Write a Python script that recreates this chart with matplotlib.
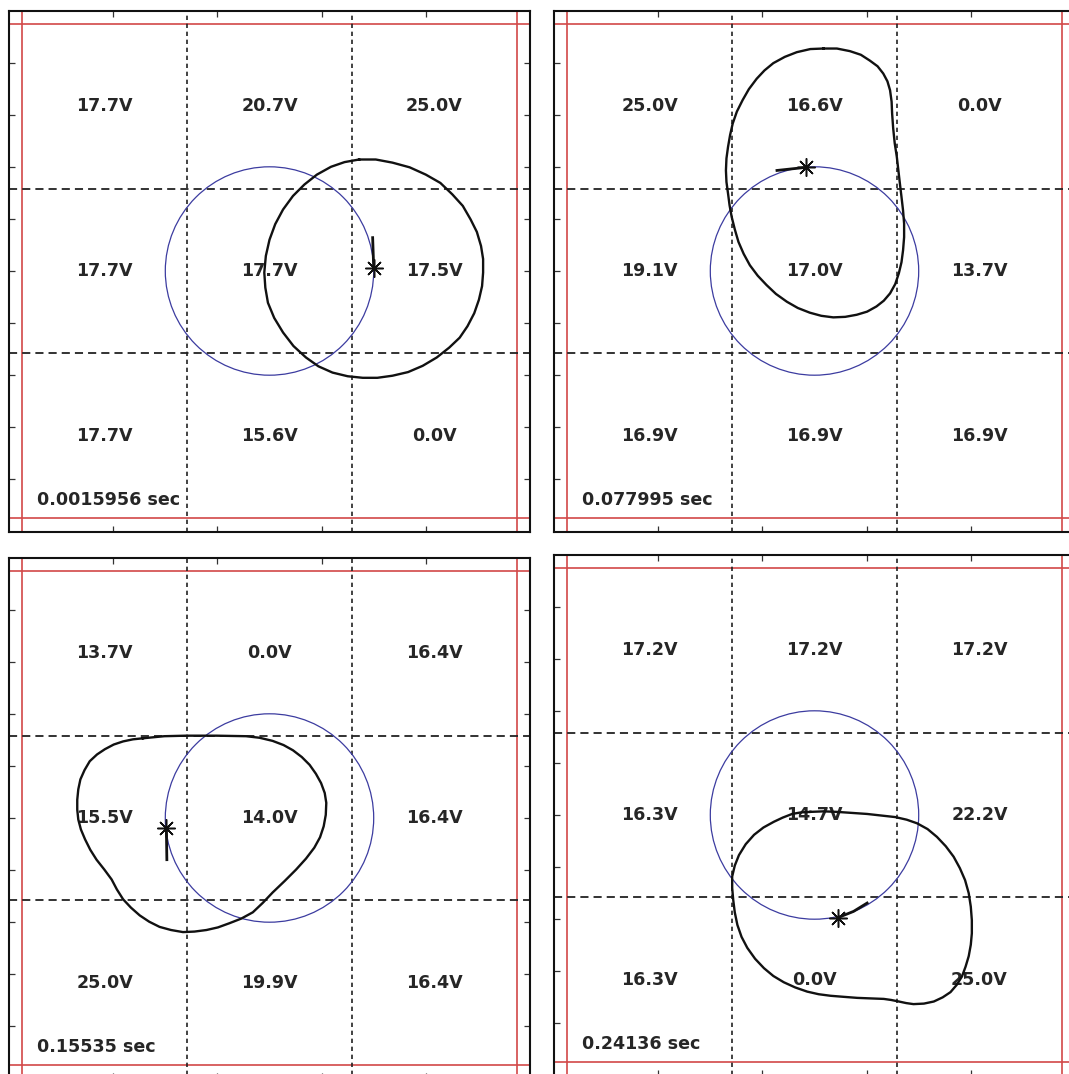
# ==============================
# Electrode grid snapshots: droplet outline vs reference circle
# ==============================

import matplotlib
matplotlib.use('Agg')
import matplotlib.pyplot as plt
from matplotlib.patches import Circle

# ---------------------------------
# Data
# ---------------------------------
times = ['0.0015956 sec', '0.077995 sec', '0.15535 sec', '0.24136 sec']

# electrode voltages, rows top -> bottom, cols left -> right
volts_1 = [[17.7, 20.7, 25.0], [17.7, 17.7, 17.5], [17.7, 15.6, 0.0]]
volts_2 = [[25.0, 16.6, 0.0], [19.1, 17.0, 13.7], [16.9, 16.9, 16.9]]
volts_3 = [[13.7, 0.0, 16.4], [15.5, 14.0, 16.4], [25.0, 19.9, 16.4]]
volts_4 = [[17.2, 17.2, 17.2], [16.3, 14.7, 22.2], [16.3, 0.0, 25.0]]

# droplet outlines
shape_x_1 = [1.72, 2.04, 2.36, 2.69, 3.00, 3.28, 3.51, 3.71, 3.86, 3.98, 4.06, 4.10, 4.10, 4.08, 4.02,
             3.93, 3.80, 3.65, 3.45, 3.21, 2.94, 2.66, 2.36, 2.07, 1.79, 1.50, 1.21, 0.94, 0.70, 0.46,
             0.26, 0.09, -0.03, -0.08, -0.10, -0.07, 0.00, 0.11, 0.26, 0.45, 0.67, 0.91, 1.18, 1.44]
shape_y_1 = [2.14, 2.14, 2.08, 1.99, 1.85, 1.69, 1.47, 1.25, 0.99, 0.75, 0.48, 0.23, -0.03, -0.29, -0.55,
             -0.81, -1.06, -1.28, -1.47, -1.66, -1.82, -1.94, -2.01, -2.05, -2.05, -2.02, -1.95, -1.83,
             -1.66, -1.44, -1.18, -0.90, -0.61, -0.32, -0.03, 0.29, 0.60, 0.90, 1.18, 1.44, 1.66, 1.85,
             2.00, 2.09]

shape_x_2 = [0.17, 0.43, 0.68, 0.89, 1.06, 1.21, 1.32, 1.40, 1.45, 1.48, 1.49, 1.51, 1.54, 1.58, 1.61,
             1.64, 1.67, 1.70, 1.72, 1.72, 1.70, 1.67, 1.62, 1.55, 1.45, 1.33, 1.19, 1.01, 0.81, 0.59,
             0.36, 0.13, -0.09, -0.32, -0.53, -0.74, -0.92, -1.09, -1.24, -1.36, -1.46, -1.53, -1.59,
             -1.63, -1.66, -1.69, -1.70, -1.69, -1.66, -1.62, -1.57, -1.49, -1.38, -1.26, -1.11, -0.96,
             -0.79, -0.57, -0.34, -0.08]
shape_y_2 = [4.27, 4.27, 4.22, 4.15, 4.04, 3.93, 3.79, 3.64, 3.47, 3.25, 3.02, 2.74, 2.45, 2.19, 1.93,
             1.67, 1.42, 1.16, 0.91, 0.65, 0.40, 0.17, -0.04, -0.25, -0.43, -0.57, -0.68, -0.78, -0.84,
             -0.88, -0.89, -0.86, -0.80, -0.71, -0.59, -0.44, -0.27, -0.09, 0.11, 0.33, 0.56, 0.80, 1.04,
             1.26, 1.49, 1.71, 1.93, 2.16, 2.38, 2.61, 2.83, 3.06, 3.28, 3.49, 3.69, 3.85, 3.99, 4.11,
             4.20, 4.26]

shape_x_3 = [-2.43, -2.02, -1.60, -1.02, -0.45, -0.19, 0.06, 0.27, 0.45, 0.62, 0.77, 0.89, 0.99, 1.06,
             1.09, 1.08, 1.04, 0.97, 0.86, 0.70, 0.51, 0.29, 0.06, -0.13, -0.32, -0.54, -0.77, -0.99,
             -1.21, -1.44, -1.66, -1.89, -2.11, -2.31, -2.49, -2.66, -2.81, -2.93, -3.03, -3.17, -3.32,
             -3.44, -3.54, -3.62, -3.67, -3.69, -3.69, -3.67, -3.63, -3.55, -3.45, -3.31, -3.16, -2.99,
             -2.81, -2.62]
shape_y_3 = [1.53, 1.57, 1.58, 1.58, 1.57, 1.54, 1.48, 1.40, 1.30, 1.17, 1.02, 0.85, 0.67, 0.48, 0.29,
             0.06, -0.16, -0.37, -0.57, -0.78, -0.99, -1.21, -1.43, -1.63, -1.81, -1.93, -2.02, -2.10,
             -2.15, -2.18, -2.19, -2.15, -2.09, -1.99, -1.87, -1.72, -1.56, -1.37, -1.18, -0.99, -0.80,
             -0.61, -0.41, -0.22, -0.03, 0.16, 0.35, 0.55, 0.74, 0.92, 1.09, 1.22, 1.32, 1.41, 1.47, 1.51]

shape_x_4 = [-0.08, 0.18, 0.43, 0.72, 1.01, 1.28, 1.55, 1.77, 1.97, 2.17, 2.35, 2.52, 2.67, 2.79, 2.89,
             2.96, 3.00, 3.02, 3.02, 3.00, 2.96, 2.90, 2.83, 2.73, 2.61, 2.46, 2.29, 2.10, 1.90, 1.76,
             1.62, 1.47, 1.33, 1.07, 0.82, 0.56, 0.31, 0.08, -0.14, -0.37, -0.59, -0.79, -0.97, -1.14,
             -1.29, -1.40, -1.48, -1.53, -1.56, -1.58, -1.58, -1.53, -1.45, -1.32, -1.16, -0.98, -0.78,
             -0.61, -0.43, -0.26]
shape_y_4 = [0.06, 0.07, 0.06, 0.04, 0.02, -0.01, -0.04, -0.09, -0.16, -0.27, -0.42, -0.60, -0.80, -1.02,
             -1.25, -1.50, -1.76, -2.02, -2.27, -2.49, -2.71, -2.91, -3.10, -3.26, -3.40, -3.50, -3.58,
             -3.62, -3.63, -3.61, -3.58, -3.55, -3.53, -3.52, -3.51, -3.49, -3.47, -3.44, -3.39, -3.31,
             -3.21, -3.09, -2.94, -2.76, -2.55, -2.34, -2.11, -1.87, -1.63, -1.40, -1.18, -0.97, -0.77,
             -0.56, -0.38, -0.24, -0.13, -0.05, 0.02, 0.05]

# tracked centroid (star) and its recent path
path_x_1 = [1.98, 2.00]
path_y_1 = [0.64, 0.06]
path_x_2 = [-0.72, -0.16]
path_y_2 = [1.93, 1.99]
path_x_3 = [-1.97, -1.98]
path_y_3 = [-0.80, -0.19]
path_x_4 = [1.01, 0.75, 0.45]
path_y_4 = [-1.69, -1.85, -1.97]

ref_radius = 2.0      # reference trajectory
field_half = 4.75     # electrode array half width
lim = 5.0

# ---------------------------------
# Layout (pixel centres of each panel)
# ---------------------------------
W, H = 1069, 1074
half_px = 260.5
centres = [(269.5, 271), (814.5, 271), (269.5, 818), (814.5, 815)]

panels = [
    (volts_1, shape_x_1, shape_y_1, path_x_1, path_y_1),
    (volts_2, shape_x_2, shape_y_2, path_x_2, path_y_2),
    (volts_3, shape_x_3, shape_y_3, path_x_3, path_y_3),
    (volts_4, shape_x_4, shape_y_4, path_x_4, path_y_4),
]

fig = plt.figure(figsize=(W / 100, H / 100), dpi=100)

cell = 2 * field_half / 3
col_pos = [-cell, 0, cell]
row_pos = [cell, 0, -cell]

for (cx, cy), t, (volts, sx, sy, px, py) in zip(centres, times, panels):
    ax = fig.add_axes([(cx - half_px) / W, 1 - (cy + half_px) / H, 2 * half_px / W, 2 * half_px / H])
    ax.set_xlim(-lim, lim)
    ax.set_ylim(-lim, lim)

    # array boundary
    for v in (-field_half, field_half):
        ax.axvline(v, color='#d24848', lw=1.2, zorder=1)
        ax.axhline(v, color='#d24848', lw=1.2, zorder=1)

    # electrode borders
    for v in (-cell / 2, cell / 2):
        ax.axhline(v, color='#222222', lw=1.3, ls=(0, (4.5, 2.8)), zorder=1)
        ax.axvline(v, color='#222222', lw=1.2, ls=(0, (2.6, 2.2)), zorder=1)

    # voltage labels
    for r in range(3):
        for c in range(3):
            ax.text(col_pos[c], row_pos[r], f'{volts[r][c]:.1f}V', ha='center', va='center',
                    fontsize=12.6, fontweight='bold', family='DejaVu Sans', color='#262626', zorder=2)

    ax.text(-4.47, -4.4, t, ha='left', va='center', fontsize=12.6, fontweight='bold',
            family='DejaVu Sans', color='#262626', zorder=2)

    # reference circle
    ax.add_patch(Circle((0, 0), ref_radius, fill=False, ec='#3c3ca0', lw=0.9, zorder=3))

    # droplet outline
    ax.plot(sx + sx[:1], sy + sy[:1], color='#111111', lw=1.7, solid_joinstyle='round', zorder=4)

    # centroid path + marker
    ax.plot(px, py, color='#111111', lw=2.0, zorder=5)
    ax.plot(px[-1], py[-1], marker=(8, 2, 0), ms=13, mew=1.1, color='#111111', zorder=6)

    ax.set_xticks([-3, -1, 1, 3])
    ax.set_yticks(range(-4, 5))
    ax.tick_params(direction='in', length=4, width=0.9, top=True, right=True,
                   labelbottom=False, labelleft=False, color='#333333')
    for s in ax.spines.values():
        s.set_linewidth(1.5)
        s.set_color('#111111')

fig.savefig('out.png', dpi=100)
